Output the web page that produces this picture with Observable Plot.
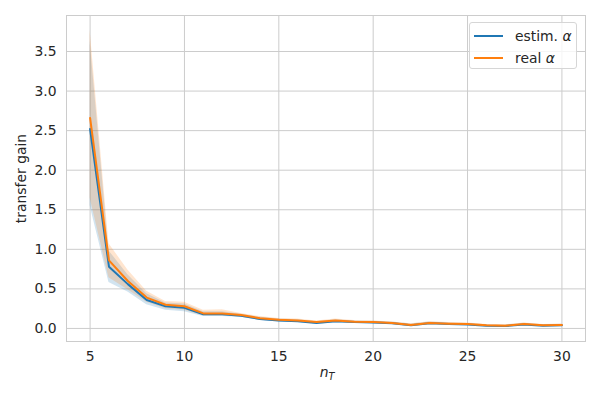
<!DOCTYPE html>
<html>
<head>
<meta charset="utf-8">
<script src="https://cdn.jsdelivr.net/npm/d3@7"></script>
<script src="https://cdn.jsdelivr.net/npm/@observablehq/plot@0.6"></script>
<style>
  body { margin: 0; background: #fff; }
  #wrap { position: relative; width: 600px; height: 400px; font-family: "DejaVu Sans", sans-serif; color: #262626; }
  #legend { position: absolute; left: 469px; top: 22px; width: 108px; height: 47px; box-sizing: border-box;
    border: 1px solid #d6d6d6; border-radius: 3px; background: rgba(255,255,255,0.8); font-size: 13.9px; }
  .row { position: absolute; left: 0; height: 18px; line-height: 18px; white-space: nowrap; }
  .sw { position: absolute; left: 4px; top: 8px; width: 29px; height: 2px; }
  .lt { position: absolute; left: 45px; top: 0; }
  #xlab { position: absolute; top: 364px; left: 327px; transform: translateX(-50%); font-size: 13.9px; white-space: nowrap; }
  sub { font-size: 70%; vertical-align: -0.3em; }
</style>
</head>
<body>
<div id="wrap">
  <div id="chart"></div>
  <div id="xlab"><i>n</i><sub><i>T</i></sub></div>
  <div id="legend"></div>
</div>
<script>
const nT = [5,6,7,8,9,10,11,12,13,14,15,16,17,18,19,20,21,22,23,24,25,26,27,28,29,30];
const estim   = [2.52,0.78,0.56,0.36,0.28,0.26,0.18,0.18,0.16,0.12,0.10,0.09,0.07,0.09,0.08,0.075,0.065,0.04,0.065,0.055,0.05,0.035,0.03,0.05,0.035,0.04];
const estimLo = [1.55,0.58,0.46,0.30,0.23,0.21,0.15,0.15,0.14,0.10,0.08,0.075,0.055,0.07,0.065,0.06,0.05,0.028,0.05,0.042,0.038,0.025,0.02,0.035,0.025,0.03];
const estimHi = [3.63,0.98,0.68,0.44,0.32,0.31,0.21,0.21,0.18,0.14,0.12,0.11,0.085,0.11,0.095,0.09,0.08,0.055,0.08,0.07,0.062,0.046,0.042,0.065,0.047,0.052];
const real    = [2.66,0.86,0.60,0.39,0.30,0.28,0.19,0.19,0.17,0.13,0.11,0.10,0.08,0.10,0.085,0.08,0.068,0.045,0.07,0.06,0.055,0.04,0.035,0.055,0.04,0.045];
const realLo  = [1.65,0.64,0.49,0.33,0.25,0.23,0.16,0.16,0.145,0.105,0.085,0.085,0.065,0.08,0.07,0.065,0.055,0.032,0.055,0.047,0.043,0.03,0.025,0.04,0.03,0.035];
const realHi  = [3.77,1.07,0.74,0.47,0.34,0.33,0.23,0.235,0.19,0.15,0.125,0.12,0.095,0.12,0.10,0.095,0.083,0.06,0.085,0.075,0.068,0.05,0.046,0.07,0.05,0.056];
const seriesNames = ["estim. α", "real α"];
const colors = ["#1f77b4", "#ff7f0e"];
const xTicks = [5,10,15,20,25,30];
const yTicks = [0,0.5,1,1.5,2,2.5,3,3.5];

const sets = [
  {name: seriesNames[0], color: colors[0], data: nT.map((x,i)=>({x, y: estim[i], lo: estimLo[i], hi: estimHi[i]}))},
  {name: seriesNames[1], color: colors[1], data: nT.map((x,i)=>({x, y: real[i], lo: realLo[i], hi: realHi[i]}))}
];

const marks = [
  Plot.gridX(xTicks, {stroke: "#cccccc", strokeOpacity: 1, strokeWidth: 1}),
  Plot.gridY(yTicks, {stroke: "#cccccc", strokeOpacity: 1, strokeWidth: 1}),
  Plot.frame({stroke: "#cccccc", strokeWidth: 1}),
  Plot.axisX({ticks: xTicks, tickSize: 0, tickPadding: 10, label: null, tickFormat: d3.format("d")}),
  Plot.axisY({ticks: yTicks, tickSize: 0, tickPadding: 10, label: "transfer gain", labelAnchor: "center", labelArrow: "none", labelOffset: 50, tickFormat: d3.format(".1f")})
];
for (const s of sets) {
  marks.push(Plot.areaY(s.data, {x: "x", y1: "lo", y2: "hi", fill: s.color, fillOpacity: 0.2}));
}
for (const s of sets) {
  marks.push(Plot.lineY(s.data, {x: "x", y: "y", stroke: s.color, strokeWidth: 2}));
}

const chart = Plot.plot({
  width: 600, height: 400,
  marginLeft: 66, marginRight: 15, marginTop: 15, marginBottom: 59,
  x: {domain: [3.75, 31.25]},
  y: {domain: [-0.165, 3.955]},
  style: {fontFamily: "DejaVu Sans, sans-serif", fontSize: "13.9px", color: "#262626", background: "#fff"},
  marks
});
document.getElementById("chart").appendChild(chart);

const leg = document.getElementById("legend");
sets.forEach((s, i) => {
  const row = document.createElement("div");
  row.className = "row";
  row.style.top = (4 + i * 22) + "px";
  row.style.width = "100%";
  const sw = document.createElement("div");
  sw.className = "sw"; sw.style.background = s.color;
  const lt = document.createElement("div");
  lt.className = "lt";
  const parts = s.name.split("α");
  lt.innerHTML = parts[0] + "<i>α</i>";
  row.appendChild(sw); row.appendChild(lt);
  leg.appendChild(row);
});
</script>
</body>
</html>
